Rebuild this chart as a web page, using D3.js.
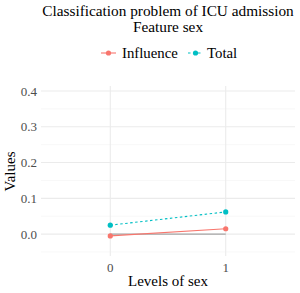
<!DOCTYPE html>
<html><head><meta charset="utf-8">
<script src="https://cdn.jsdelivr.net/npm/d3@7"></script>
<style>body{margin:0;background:#fff}</style>
</head><body><svg id="c" width="300" height="293" font-family="Liberation Serif, DejaVu Serif, serif"></svg>
<script>
const levels = ["0","1"];
const influence = [-0.005, 0.015];
const total = [0.025, 0.062];
const yTicks = [0.0, 0.1, 0.2, 0.3, 0.4];
const yMinor = [-0.05, 0.05, 0.15, 0.25, 0.35];
const seriesNames = ["Influence","Total"];
const titleLines = ["Classification problem of ICU admission","Feature sex"];
const colors = ["#F8766D","#00BFC4"];

const svg = d3.select("#c");
const L = 41, R = 295, T = 86, B = 256;
const x = d3.scalePoint().domain(levels).range([L, R]).padding(0.6);
const y = d3.scaleLinear().domain([-0.05, 0.4]).range([252, 91]);

const g = svg.append("g");
g.selectAll(".minor").data(yMinor).join("line")
  .attr("x1", L).attr("x2", R).attr("y1", d=>y(d)).attr("y2", d=>y(d))
  .attr("stroke", "#f3f3f3").attr("stroke-width", 0.6);
g.selectAll(".major").data(yTicks).join("line")
  .attr("x1", L).attr("x2", R).attr("y1", d=>y(d)).attr("y2", d=>y(d))
  .attr("stroke", "#ebebeb").attr("stroke-width", 1.1);
g.selectAll(".vx").data(levels).join("line")
  .attr("x1", d=>x(d)).attr("x2", d=>x(d)).attr("y1", T).attr("y2", B)
  .attr("stroke", "#ebebeb").attr("stroke-width", 1.1);

g.append("line").attr("x1", x("0")).attr("x2", x("1")).attr("y1", y(0)).attr("y2", y(0))
  .attr("stroke", "#a6a6a6").attr("stroke-width", 1.3);

const line = d3.line().x((d,i)=>x(levels[i])).y(d=>y(d));
[[influence, null],[total, "2.5,2.5"]].forEach(([vals,dash],k)=>{
  const p = g.append("path").datum(vals).attr("d", line).attr("fill","none")
    .attr("stroke", colors[k]).attr("stroke-width", 1.1);
  if (dash) p.attr("stroke-dasharray", dash);
  g.selectAll(".pt"+k).data(vals).join("circle")
    .attr("cx",(d,i)=>x(levels[i])).attr("cy", d=>y(d)).attr("r", 2.6).attr("fill", colors[k]);
});

svg.selectAll(".yl").data(yTicks).join("text")
  .attr("x", 37).attr("y", d=>y(d)).attr("dy","0.35em").attr("text-anchor","end")
  .attr("font-size", 13).attr("fill", "#4d4d4d").text(d=>d.toFixed(1));
svg.selectAll(".xl").data(levels).join("text")
  .attr("x", d=>x(d)).attr("y", 272).attr("text-anchor","middle")
  .attr("font-size", 13).attr("fill", "#4d4d4d").text(d=>d);

svg.append("text").attr("x", (L+R)/2).attr("y", 286).attr("text-anchor","middle")
  .attr("font-size", 15).attr("fill","#000").text("Levels of sex");
svg.append("text").attr("transform", `translate(15,${(91+252)/2}) rotate(-90)`)
  .attr("text-anchor","middle").attr("font-size", 15).attr("fill","#000").text("Values");

const title = svg.append("text").attr("text-anchor","middle").attr("font-size", 15.3);
title.selectAll("tspan").data(titleLines).join("tspan")
  .attr("x", 168).attr("y", (d,i)=>16 + i*16).text(d=>d);

const legX = [101, 188];
const legTx = [122, 207];
seriesNames.forEach((n,k)=>{
  const lx = legX[k];
  const ln = svg.append("line").attr("x1", lx).attr("x2", lx+15).attr("y1", 53).attr("y2", 53)
    .attr("stroke", colors[k]).attr("stroke-width", 1.1);
  if (k===1) ln.attr("stroke-dasharray","2.5,2.5");
  svg.append("circle").attr("cx", lx+7.5).attr("cy", 53).attr("r", 2.6).attr("fill", colors[k]);
  svg.append("text").attr("x", legTx[k]).attr("y", 53).attr("dy","0.35em")
    .attr("font-size", 14.8).text(n);
});
</script></body></html>
